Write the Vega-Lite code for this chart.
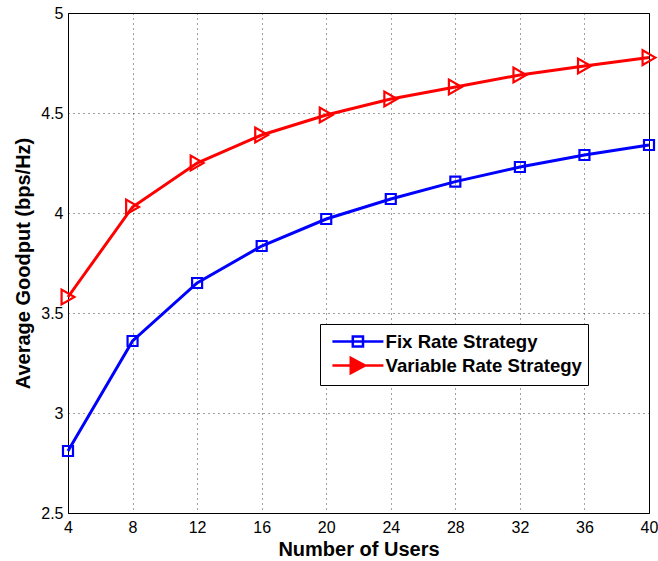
{
  "$schema": "https://vega.github.io/schema/vega-lite/v6.json",
  "width": 581,
  "height": 500,
  "autosize": {"type": "none"},
  "padding": {"left": 68, "top": 13, "right": 9, "bottom": 48},
  "background": "white",
  "config": {
    "font": "Liberation Sans",
    "view": {"stroke": "black", "strokeWidth": 1},
    "axis": {
      "domainColor": "black",
      "domainWidth": 1,
      "grid": true,
      "gridColor": "black",
      "gridOpacity": 0.75,
      "gridDash": [1, 4],
      "gridWidth": 1,
      "ticks": false,
      "labelFont": "Liberation Sans",
      "labelFontSize": 16,
      "labelColor": "black",
      "titleFont": "Liberation Sans",
      "titleFontSize": 20,
      "titleFontWeight": "bold",
      "titleColor": "black"
    }
  },
  "data": {
    "values": [
      {"users": 4, "goodput": 2.81, "series": "Fix Rate Strategy"},
      {"users": 8, "goodput": 3.36, "series": "Fix Rate Strategy"},
      {"users": 12, "goodput": 3.65, "series": "Fix Rate Strategy"},
      {"users": 16, "goodput": 3.835, "series": "Fix Rate Strategy"},
      {"users": 20, "goodput": 3.97, "series": "Fix Rate Strategy"},
      {"users": 24, "goodput": 4.07, "series": "Fix Rate Strategy"},
      {"users": 28, "goodput": 4.157, "series": "Fix Rate Strategy"},
      {"users": 32, "goodput": 4.23, "series": "Fix Rate Strategy"},
      {"users": 36, "goodput": 4.29, "series": "Fix Rate Strategy"},
      {"users": 40, "goodput": 4.34, "series": "Fix Rate Strategy"},
      {"users": 4, "goodput": 3.58, "series": "Variable Rate Strategy"},
      {"users": 8, "goodput": 4.03, "series": "Variable Rate Strategy"},
      {"users": 12, "goodput": 4.25, "series": "Variable Rate Strategy"},
      {"users": 16, "goodput": 4.39, "series": "Variable Rate Strategy"},
      {"users": 20, "goodput": 4.49, "series": "Variable Rate Strategy"},
      {"users": 24, "goodput": 4.57, "series": "Variable Rate Strategy"},
      {"users": 28, "goodput": 4.63, "series": "Variable Rate Strategy"},
      {"users": 32, "goodput": 4.69, "series": "Variable Rate Strategy"},
      {"users": 36, "goodput": 4.735, "series": "Variable Rate Strategy"},
      {"users": 40, "goodput": 4.777, "series": "Variable Rate Strategy"}
    ]
  },
  "encoding": {
    "x": {
      "field": "users",
      "type": "quantitative",
      "scale": {"domain": [4, 40], "nice": false, "zero": false},
      "axis": {"values": [4, 8, 12, 16, 20, 24, 28, 32, 36, 40], "format": "~g", "title": "Number of Users", "labelPadding": 6, "titlePadding": 4, "labelFlush": false}
    },
    "y": {
      "field": "goodput",
      "type": "quantitative",
      "scale": {"domain": [2.5, 5], "nice": false, "zero": false},
      "axis": {"values": [2.5, 3, 3.5, 4, 4.5, 5], "format": "~g", "title": "Average Goodput (bps/Hz)", "labelPadding": 5, "titlePadding": 7, "labelFlush": false}
    },
    "color": {
      "field": "series",
      "type": "nominal",
      "scale": {"domain": ["Fix Rate Strategy", "Variable Rate Strategy"], "range": ["#0000ff", "#ff0000"]}
    }
  },
  "layer": [
    {
      "mark": {"type": "line", "strokeWidth": 3, "clip": false},
      "encoding": {
        "color": {
          "field": "series",
          "type": "nominal",
          "scale": {"domain": ["Fix Rate Strategy", "Variable Rate Strategy"], "range": ["#0000ff", "#ff0000"]},
          "legend": {
            "title": null,
            "orient": "none",
            "legendX": 252,
            "legendY": 311,
            "strokeColor": "black",
            "fillColor": "white",
            "padding": 6,
            "rowPadding": 0,
            "symbolSize": 416,
            "symbolStrokeWidth": 2.5,
            "labelOffset": 36.6,
            "labelLimit": 400,
            "labelFont": "Liberation Sans",
            "labelFontSize": 18.6,
            "labelFontWeight": "bold",
            "labelColor": "black",
            "encode": {
              "symbols": {
                "update": {
                  "shape": {"signal": "datum.value === 'Fix Rate Strategy' ? 'M-0.5,0H4.5M1.5,-0.5H2.5V0.5H1.5Z' : 'M-0.5,0H4.5M1.3,-0.75L2.7,0L1.3,0.75Z'"},
                  "fill": {"signal": "datum.value === 'Fix Rate Strategy' ? 'transparent' : '#ff0000'"},
                  "strokeWidth": {"value": 2.5},
                  "opacity": {"value": 1}
                }
              }
            }
          }
        }
      }
    },
    {
      "mark": {"type": "point", "filled": false, "strokeWidth": 2.2, "size": 100, "shape": "square", "opacity": 1, "clip": false},
      "transform": [{"filter": "datum.series === 'Fix Rate Strategy'"}],
      "encoding": {"color": {"field": "series", "type": "nominal", "legend": null}}
    },
    {
      "mark": {"type": "point", "filled": false, "strokeWidth": 2.2, "size": 220, "shape": "triangle-right", "opacity": 1, "clip": false},
      "transform": [{"filter": "datum.series === 'Variable Rate Strategy'"}],
      "encoding": {"color": {"field": "series", "type": "nominal", "legend": null}}
    }
  ]
}
